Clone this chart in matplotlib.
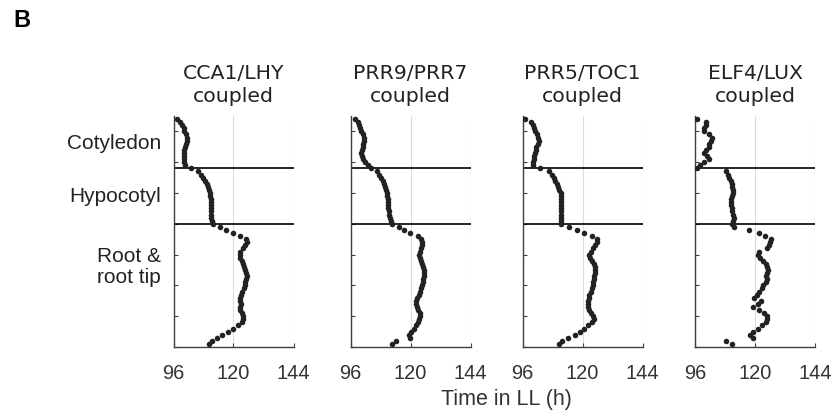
import numpy as np
import matplotlib
matplotlib.use("Agg")
import matplotlib.pyplot as plt

# Position along the seedling (top = cotyledon, bottom = root tip)
positions = list(range(74, 0, -1))

titles = ["CCA1/LHY\ncoupled", "PRR9/PRR7\ncoupled", "PRR5/TOC1\ncoupled", "ELF4/LUX\ncoupled"]
regions = ["Cotyledon", "Hypocotyl", "Root &\nroot tip"]
region_pos = [66.0, 48.9, 26]
boundaries = [58, 40]
xticks = [96, 120, 144]

# peak time (h) for each position, top to bottom
cca1_lhy = [97.4, 98.5, 99.3, 100.0, 100.3, 100.8, 101.2, 101.4, 101.0, 100.7,
            100.3, 100.0, 100.0, 100.0, 100.2, 100.5, 103.0, 106.0, 107.0, 107.8,
            108.5, 109.3, 109.8, 110.2, 110.6, 110.8, 111.0, 111.0, 111.0, 111.0,
            111.0, 111.1, 111.2, 111.4, 111.8, 114.5, 117.0, 120.0, 122.5, 125.0,
            125.4, 124.8, 123.8, 122.8, 122.5, 122.8, 123.3, 123.8, 124.3, 124.8,
            125.2, 125.3, 125.2, 124.8, 124.5, 124.2, 123.6, 123.0, 122.5, 122.7,
            123.0, 122.5, 122.5, 123.5, 124.0, 124.0, 123.5, 122.0, 120.0, 117.8,
            115.5, 113.3, 111.5, 110.2]
prr9_prr7 = [97.6, 98.8, 99.4, 99.8, 100.2, 100.8, 101.2, 101.3, 101.1, 100.9,
             100.6, 100.3, 100.6, 101.0, 101.6, 102.8, 104.1, 106.4, 107.2, 108.0,
             108.8, 109.5, 109.8, 110.2, 110.5, 110.7, 110.8, 110.9, 111.0, 111.1,
             111.3, 111.5, 111.7, 112.0, 112.7, 115.2, 117.5, 119.8, 122.8, 124.2,
             124.4, 124.4, 124.0, 123.6, 123.4, 123.7, 124.1, 124.4, 124.8, 125.2,
             125.4, 125.2, 125.0, 124.8, 124.5, 124.2, 123.9, 123.4, 122.5, 122.0,
             122.2, 122.5, 123.0, 123.6, 123.8, 123.5, 122.9, 122.2, 121.2, 120.3,
             119.5, 119.8, 114.0, 112.6]
prr5_toc1 = [97.0, 99.3, 100.2, 100.6, 101.0, 101.6, 102.2, 102.4, 102.0, 101.5,
             101.2, 100.9, 100.7, 100.5, 100.3, 100.1, 102.8, 106.6, 107.6, 108.4,
             109.0, 109.6, 110.2, 110.7, 111.2, 111.5, 111.5, 111.5, 111.5, 111.4,
             111.3, 111.2, 111.2, 111.3, 111.5, 114.6, 117.6, 120.7, 123.8, 125.6,
             125.7, 125.0, 124.2, 123.2, 122.7, 123.0, 123.8, 124.6, 124.8, 124.8,
             124.8, 124.7, 124.5, 124.3, 124.1, 123.7, 123.2, 122.7, 122.4, 122.3,
             122.2, 122.1, 122.4, 123.5, 124.3, 124.5, 123.8, 122.3, 120.5, 118.8,
             116.8, 114.3, 111.8, 110.6]
elf4_lux = [96.7, 100.5, 100.3, 99.6, 99.4, 101.4, 102.6, 102.2, 101.6, 101.4,
            100.4, 99.4, 100.6, 101.4, 99.6, 97.8, 96.6, 108.2, 109.0, 109.6,
            110.2, 110.6, 110.9, 111.1, 111.1, 110.9, 110.5, 110.2, 110.3, 110.7,
            110.9, 111.3, 111.5, 111.2, 110.6, 111.4, 117.6, 121.5, 124.0, 126.2,
            125.8, 125.4, 124.8, 121.5, 121.0, 121.8, 123.0, 124.2, 124.8, 125.1,
            124.6, 124.2, 124.6, 124.4, 123.2, 122.6, 121.7, 120.6, 119.6, 122.4,
            121.2, 119.0, 121.5, 123.6, 124.6, 124.6, 124.4, 122.6, 121.0, 119.0,
            118.0, 119.2, 108.2, 110.6]

series = [cca1_lhy, prr9_prr7, prr5_toc1, elf4_lux]

fig = plt.figure(figsize=(8.38, 4.18), dpi=100)
W, H = 838, 418
lefts = [173.5, 350.5, 522.5, 695]
ax_w = 120
ax_top, ax_bot = 116, 347

axes = []
for i, (left, vals) in enumerate(zip(lefts, series)):
    ax = fig.add_axes([left / W, (H - ax_bot) / H, ax_w / W, (ax_bot - ax_top) / H])
    ax.scatter(vals, positions, s=16, color="#222222", linewidths=0, zorder=3)
    for b in boundaries:
        ax.axhline(b, color="black", lw=1.2, zorder=2)
    ax.set_xlim(96, 144)
    ax.set_ylim(0, 75)
    ax.set_xticks(xticks)
    ax.set_yticks(range(0, 80, 10))
    ax.set_yticklabels([])
    ax.xaxis.grid(True, color="#dcdcdc", lw=0.8)
    ax.set_axisbelow(True)
    for s in ["top", "right"]:
        ax.spines[s].set_visible(False)
    for s in ["left", "bottom"]:
        ax.spines[s].set_color("#404040")
        ax.spines[s].set_linewidth(1.0)
    ax.tick_params(direction="in", length=3, color="#404040", labelsize=14.4,
                   labelcolor="#333333", pad=12)
    for lab in ax.get_xticklabels():
        lab.set_family("Liberation Sans")
    ax.set_title(titles[i], fontsize=14.7, color="#222222", family="DejaVu Sans",
                 linespacing=1.25, pad=10)
    axes.append(ax)

for name, y in zip(regions, region_pos):
    axes[0].text(-0.104, y, name, transform=axes[0].get_yaxis_transform(),
                 ha="right", va="center", multialignment="right",
                 fontsize=15, family="Liberation Sans", color="#222222",
                 linespacing=1.1)

fig.text(506 / W, 1 - 399 / H, "Time in LL (h)", ha="center", va="center",
         fontsize=15.5, family="Liberation Sans", color="#333333")
fig.text(13 / W, 1 - 20.5 / H, "B", ha="left", va="center", fontsize=17,
         fontweight="bold", family="Liberation Sans")

fig.savefig("out.png", dpi=100)
